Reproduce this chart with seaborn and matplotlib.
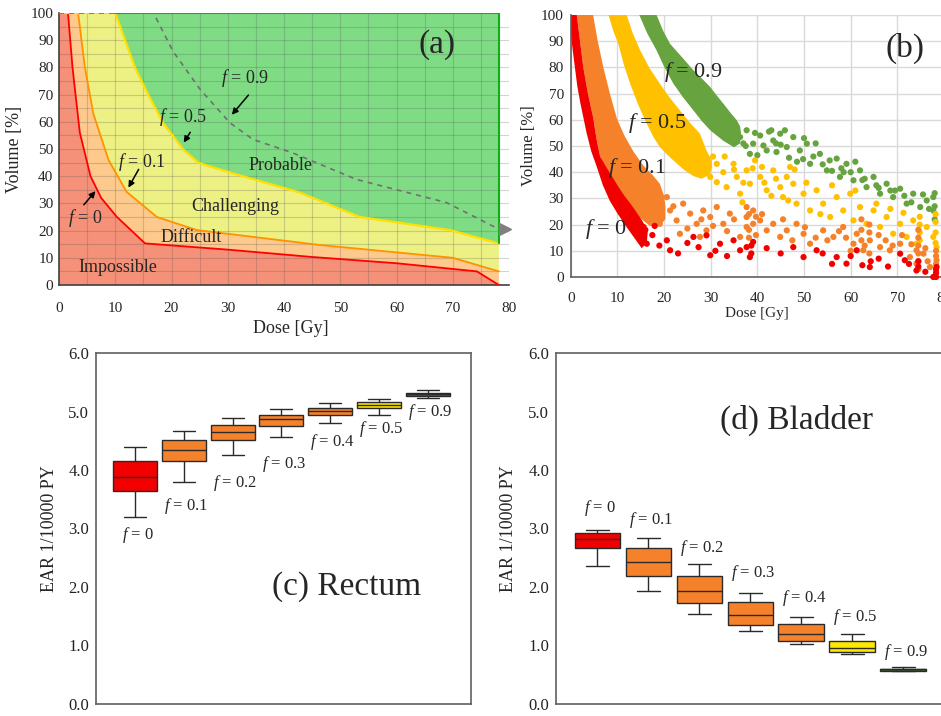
import numpy as np
import pandas as pd
import matplotlib
matplotlib.use('Agg')
import matplotlib.pyplot as plt
import seaborn as sns

#------------------style-------------------
sns.set_style('white')
plt.rcParams['font.family'] = ['Liberation Serif', 'DejaVu Serif']
plt.rcParams['mathtext.fontset'] = 'custom'
plt.rcParams['mathtext.rm'] = 'Liberation Serif'
plt.rcParams['mathtext.it'] = 'Liberation Serif:italic'

#------------------(a) region boundaries-------------------
dose_f0 = [0, 1.6, 2.4, 3.7, 5.6, 7.5, 10.3, 15.3, 30, 45, 60, 74.3, 78.2]
vol_f0 = [100, 100, 80, 56, 40, 32, 25, 15.3, 13, 10.3, 8, 5, 0]
dose_f01 = [0, 3.4, 4.6, 6.1, 8.8, 12.0, 17.4, 24.5, 46.4, 70, 78.2]
vol_f01 = [100, 100, 80, 63, 46, 34.3, 25, 20.2, 14.7, 10, 5]
dose_f05 = [0, 10, 13.5, 15.6, 18.5, 22.1, 24.8, 31, 42.8, 53.5, 69.5, 78.2]
vol_f05 = [100, 100, 80, 71, 59.6, 49.8, 44.9, 41, 34, 25, 20.2, 15.3]
dose_f09 = [0, 16.8, 20.3, 25.1, 30.4, 34.5, 41.5, 52.9, 68.9, 78.2]
vol_f09 = [100, 100, 85.8, 71.9, 59.6, 53.5, 48.6, 38.8, 30.3, 20.5]

#------------------(b) dense bands (outline of the point clouds)-------------------
red_band_dose = [0, 0, 0.4, 0.9, 1.4, 2, 2.7, 3.4, 4.4, 5.6, 6.9, 8.4, 10.1, 12, 13.6, 15.2,
                 16.3, 16.5, 15.5, 14, 12.8, 11.5, 10.2, 9, 7.6, 6.3, 5.5, 4.8, 3.7, 2.7, 2, 1.3]
red_band_vol = [100, 93, 87, 80, 73, 67, 61, 55, 48, 42, 35, 29, 24, 19, 15, 11,
                13, 17, 21, 25, 28, 31, 34.5, 38, 42, 46, 53, 61, 70, 80, 90, 100]
orange_band_dose = [1.3, 2, 2.7, 3.7, 4.8, 5.5, 6.3, 7.6, 9, 10.5, 12, 14.5, 17, 19,
                    20.3, 20.3, 20, 19.1, 17.5, 15.6, 13.4, 11.5, 9.9, 8.4, 7, 5.8, 4.8]
orange_band_vol = [100, 90, 80, 70, 61, 53, 46, 41, 36, 31.5, 28, 23, 19.5, 19.5,
                   22, 27, 31, 35.6, 39, 42.5, 48, 54, 60.5, 70, 80, 90, 100]
yellow_band_dose = [8.1, 9.1, 10.2, 11.4, 12.7, 14.4, 16.3, 17.7, 19.1, 20.5, 22, 24.2, 26.3, 28,
                    29.8, 30.3, 30.2, 29.1, 27.7, 25.5, 23.4, 21.2, 19.1, 16.8, 14.9, 13.3, 12]
yellow_band_vol = [100, 94, 89, 81, 74, 66, 58.5, 53.5, 49.6, 47, 44.5, 41, 38.5, 37.5,
                   39, 42, 44.5, 48.3, 54.7, 59, 63.6, 68.5, 73.8, 80, 86.5, 93, 100]
green_band_dose = [14.7, 16.4, 18.4, 20.1, 22, 24.1, 26.3, 28.1, 29.9, 32.7, 35,
                   36.3, 36.5, 36.3, 35.6, 34.2, 32.7, 31.3, 29.9, 28.1, 26.3, 23.8, 21.3, 19.8, 18.4]
green_band_vol = [100, 93, 86.5, 80, 73.8, 68.5, 63.6, 59.5, 56, 52, 49.5,
                  51, 55, 57.5, 59.8, 62.8, 66.2, 69.3, 72.5, 75.8, 78.9, 84, 89, 94, 100]

#------------------(b) scattered points in the tails-------------------
green_dose = [36.3, 37.7, 39.1, 40.6, 42, 43.4, 44.9, 46.3, 38.4, 41.3, 44.1, 45.9, 37, 42.5, 44, 40,
              47.7, 49.1, 50.6, 51.3, 53.4, 54.9, 57, 57.7, 59.1, 60.6, 62, 63.4, 64.9, 66.3, 67.7,
              69.1, 70.6, 72, 73.4, 74.9, 76.3, 77.7, 77.7, 48.5, 52, 55.5, 56, 58.5, 61, 62.5, 65.5,
              68.5, 71.5, 75.5, 78, 78, 78, 52.5, 46.8,
              37.5, 39.5, 43, 45, 49.8, 54, 58, 60, 63, 66, 69.5, 73, 76.8, 50]
green_vol = [53.4, 56, 50.9, 54, 48.3, 52.1, 54.7, 49.6, 47, 50.2, 47.7, 56, 51, 55.5, 51, 46.5,
             53.4, 48.3, 50.9, 43.2, 47, 40.7, 45.2, 38.2, 43.2, 36.9, 40.7, 34.3, 38.2, 31.8, 35.6,
             30.5, 33.7, 28, 31.8, 26.7, 29.2, 25.4, 30.5, 44, 46, 44.5, 40.5, 40, 44, 37, 35,
             33, 31, 31.5, 22, 27, 32, 51, 45.5,
             50, 55, 56, 50.5, 45, 43, 41.5, 40, 37.5, 34, 33, 28.5, 26, 53]
yellow_dose = [29.9, 31.3, 32.7, 33.4, 34.9, 35.6, 36.3, 37.7, 38.4, 39.5, 40.6, 42, 43.4, 44.9, 46.3,
               46.6, 31.3, 30.5, 41, 45.5, 48, 36.8, 47.7, 48.4, 49.9, 51.3, 52.7, 54.1, 55.6, 57,
               58.4, 59.9, 60.6, 62, 63.4, 64.9, 66.3, 67.7, 69.1, 70.6, 72, 73.4, 74.1, 76.3, 77.7,
               78.4, 74.8, 74.8, 74.8, 74.8, 78.2, 78.2, 78.2, 78.2, 50.5, 53.5, 56, 61, 65.5, 68.5, 71.3,
               33, 35, 37, 39, 41.5, 43, 44, 47]
yellow_vol = [38.2, 43.2, 40, 34.3, 43.2, 38.2, 31.8, 40.7, 35.6, 44.5, 38.2, 33.1, 40.7, 34.3, 38.2,
              29.2, 36.2, 46, 42, 30.5, 41, 28.5, 35.6, 28, 31.8, 25.4, 33.1, 28, 22.9, 30.5,
              25.4, 31.8, 21.6, 26.7, 20.3, 25.4, 19.1, 22.9, 16.5, 20.3, 15.3, 21.6, 12.7, 19.1, 15.3,
              11.4, 14, 17, 20, 23, 13, 17, 21, 24, 36, 24, 35, 33, 28, 26, 24.5,
              46, 41, 36, 41.5, 36, 31, 37.5, 42]
orange_dose = [20.6, 21.3, 22.7, 24.1, 25.6, 27, 28.4, 29.1, 29.9, 31.3, 32.7, 34.1, 36.3, 37.7, 37.7,
               37.7, 39.1, 39.1, 40.6, 42, 43.4, 44.9, 46.3, 19.1, 23.4, 27.7, 38.2, 38.2, 38.2, 39.7,
               39.7, 48.4, 49.9, 51.3, 54.1, 56.3, 58.4, 60.6, 61.3, 62.7, 64.1, 66.3, 68.4, 70.6, 72.7,
               74.1, 74.1, 75.6, 77, 78.4, 62.3, 62.3, 62.3, 64, 64, 64, 74.5, 74.5, 74.5, 74.5,
               74.5, 74.5, 78.3, 78.3, 78.3, 78.3, 50.2, 55, 59, 67.5, 71, 76,
               22, 25, 28, 30.5, 33.5, 35, 41, 45.5, 47.5, 52.5, 57.5, 60, 63, 66, 69, 73, 76.5]
orange_vol = [30.5, 25.4, 21.6, 28, 24.2, 20.3, 25.4, 17.8, 22.9, 26.7, 20.3, 24.2, 15.3, 26.7, 22.9,
              19.1, 25.4, 20.3, 21.6, 17.8, 20.3, 15.3, 17.8, 20.3, 16.5, 15.3, 15, 18, 24, 16,
              23, 20.3, 16.5, 12.7, 17.8, 15.3, 19.1, 12.7, 16.5, 10.2, 14, 11.4, 10.2, 12.7, 7.6,
              10.2, 5.1, 8.9, 3.8, 6.4, 14, 18, 22, 9, 17, 20, 3, 6, 9, 12,
              15, 18, 2, 5, 8, 10, 19, 14, 15, 14, 16, 11,
              27, 18.5, 22, 19.5, 17.5, 22, 24, 22, 14, 15, 17.5, 10, 12, 16, 12, 12.5, 6]
red_dose = [15.6, 16.3, 20.6, 21.3, 26.3, 27.4, 29.1, 29.9, 32, 34.9, 36.3, 37.7, 38.4, 39.1,
            47.7, 49.9, 57, 59.1, 61.3, 64.1, 70.6, 71.6, 74.1, 77.7, 78.4, 52.7,
            78.3, 78.3, 78.3, 74.5, 74.5, 38.7, 38.7, 62.5, 64.3, 60, 16, 17.5, 18,
            19, 23, 25, 31, 33.5, 42, 45, 54, 56, 66, 68, 72.5, 76]
red_vol = [19.1, 12.7, 14, 10.2, 15.3, 11.4, 15.9, 8.3, 12.7, 14, 10.2, 11.4, 7.6, 13.4,
           11.4, 7.6, 7.6, 5.1, 10.2, 3.8, 8.9, 6.4, 2.5, 0, 3.8, 10.2,
           0, 1.5, 3, 4, 6, 9, 12, 4.5, 6, 8, 18, 16, 19.5,
           12, 9, 13, 10, 8, 11, 9, 9, 5, 7, 4, 5, 2]

#------------------(c)/(d) box plot summaries-------------------
f_labels = ['0', '0.1', '0.2', '0.3', '0.4', '0.5', '0.9']
rectum_low = [3.19, 3.80, 4.26, 4.57, 4.80, 4.94, 5.24]
rectum_q1 = [3.64, 4.16, 4.51, 4.75, 4.95, 5.07, 5.27]
rectum_med = [3.89, 4.34, 4.66, 4.87, 5.02, 5.12, 5.30]
rectum_q3 = [4.15, 4.51, 4.77, 4.95, 5.07, 5.17, 5.32]
rectum_high = [4.39, 4.67, 4.89, 5.04, 5.15, 5.22, 5.37]
bladder_low = [2.35, 1.93, 1.54, 1.24, 1.02, 0.85, 0.55]
bladder_q1 = [2.66, 2.19, 1.72, 1.35, 1.08, 0.89, 0.56]
bladder_med = [2.82, 2.43, 1.93, 1.51, 1.19, 0.96, 0.59]
bladder_q3 = [2.92, 2.66, 2.19, 1.74, 1.36, 1.08, 0.60]
bladder_high = [2.98, 2.84, 2.39, 1.89, 1.49, 1.19, 0.63]

box_colors = ['#F20000', '#F5822A', '#F5822A', '#F5822A', '#F5822A', '#FFE800', '#3E6E2A']


def flab(v):
    return r'$\mathit{f}$ = ' + v


def box_frame(low, q1, med, q3, high):
    # five values per group -> quartiles land exactly on q1/med/q3
    rows = []
    for i, lab in enumerate(f_labels):
        for v in (low[i], q1[i], med[i], q3[i], high[i]):
            rows.append({'f': lab, 'EAR': v})
    return pd.DataFrame(rows)


def draw_panel_a(fig):
    ax = fig.add_axes([59 / 941, 1 - 285 / 716, 450 / 941, 272 / 716])
    # regions
    ax.fill(dose_f0 + [0], vol_f0 + [0], color='#F59178', lw=0, zorder=1)
    ax.fill(dose_f0 + dose_f01[::-1], vol_f0 + vol_f01[::-1], color='#FDC98C', lw=0, zorder=1)
    ax.fill(dose_f01 + dose_f05[::-1], vol_f01 + vol_f05[::-1], color='#EDF083', lw=0, zorder=1)
    ax.fill(dose_f05 + [78.2], vol_f05 + [100], color='#7FDC84', lw=0, zorder=1)
    # grid over the colours
    for g in np.arange(5, 81, 5):
        ax.axvline(g, color='#555555', alpha=0.25, lw=0.8, zorder=2)
    for g in np.arange(5, 100, 5):
        ax.axhline(g, color='#555555', alpha=0.25, lw=0.8, zorder=2)
    # boundaries
    ax.plot(dose_f0, vol_f0, color='#FF0000', lw=1.3, zorder=3)
    ax.plot(dose_f01, vol_f01, color='#FF9200', lw=1.3, zorder=3)
    ax.plot(dose_f05, vol_f05, color='#FFE000', lw=1.6, zorder=3)
    ax.plot([dose_f05[1], 78.2, 78.2], [100, 100, vol_f05[-1]], color='#10B010', lw=1.5, zorder=3)
    ax.plot(dose_f09, vol_f09, color='#707070', lw=1.2, ls=(0, (3, 3)), zorder=4)
    ax.plot([79.3], [vol_f09[-1]], marker='>', color='#808080', ms=8, zorder=4, clip_on=False)

    ax.set_xlim(0, 80)
    ax.set_ylim(0, 100)
    ax.set_xticks(np.arange(0, 81, 10))
    ax.set_yticks(np.arange(0, 101, 10))
    ax.tick_params(axis='x', length=0, pad=12, labelsize=11)
    ax.tick_params(axis='y', length=0, pad=4, labelsize=11)
    for s in ['top', 'right']:
        ax.spines[s].set_visible(False)
    for s in ['left', 'bottom']:
        ax.spines[s].set_color('#404040')
        ax.spines[s].set_linewidth(1.2)
    ax.set_xlabel('Dose [Gy]', fontsize=13)
    ax.xaxis.set_label_coords(0.516, -0.13)
    ax.set_ylabel('Volume [%]', fontsize=13)
    ax.yaxis.set_label_coords(-0.08, 0.5)

    kw = dict(fontsize=13, ha='center', va='center', zorder=6)
    ax.text(10.5, 6.6, 'Impossible', **kw)
    ax.text(23.5, 17.6, 'Difficult', **kw)
    ax.text(31.3, 28.7, 'Challenging', **kw)
    ax.text(39.3, 44.1, 'Probable', **kw)
    ax.text(4.7, 24.5, flab('0'), **kw)
    ax.text(14.8, 45.2, flab('0.1'), **kw)
    ax.text(22.0, 61.8, flab('0.5'), **kw)
    ax.text(33.1, 76.1, flab('0.9'), **kw)
    ax.text(67.2, 88.2, '(a)', fontsize=24, ha='center', va='center')
    arrow = dict(arrowstyle='-|>', color='black', lw=1.1, mutation_scale=9)
    ax.annotate('', xy=(6.8, 35.3), xytext=(4.1, 28.7), arrowprops=arrow, zorder=6)
    ax.annotate('', xy=(12.1, 34.9), xytext=(14.4, 43.4), arrowprops=arrow, zorder=6)
    ax.annotate('', xy=(21.9, 51.5), xytext=(23.6, 57.0), arrowprops=arrow, zorder=6)
    ax.annotate('', xy=(30.4, 61.8), xytext=(34.0, 70.6), arrowprops=arrow, zorder=6)


def draw_panel_b(fig):
    ax = fig.add_axes([570.7 / 941, 1 - 277 / 716, 373.3 / 941, 262 / 716])
    ax.set_xlim(0, 80)
    ax.set_ylim(0, 100)
    ax.set_xticks(np.arange(0, 81, 10))
    ax.set_yticks(np.arange(0, 101, 10))
    ax.grid(True, color='#D9D9D9', lw=1.0)
    ax.set_axisbelow(True)

    ax.fill(green_band_dose, green_band_vol, color='#67A43F', lw=0, zorder=2)
    ax.fill(yellow_band_dose, yellow_band_vol, color='#FFC000', lw=0, zorder=2)
    ax.fill(orange_band_dose, orange_band_vol, color='#F5822A', lw=0, zorder=2)
    ax.fill(red_band_dose, red_band_vol, color='#F20000', lw=0, zorder=2)

    pts = pd.concat([
        pd.DataFrame({'dose': green_dose, 'vol': green_vol, 'grp': 'g'}),
        pd.DataFrame({'dose': yellow_dose, 'vol': yellow_vol, 'grp': 'y'}),
        pd.DataFrame({'dose': orange_dose, 'vol': orange_vol, 'grp': 'o'}),
        pd.DataFrame({'dose': red_dose, 'vol': red_vol, 'grp': 'r'}),
    ], ignore_index=True)
    sns.scatterplot(data=pts, x='dose', y='vol', hue='grp',
                    palette={'g': '#67A43F', 'y': '#FFC000', 'o': '#F5822A', 'r': '#F20000'},
                    s=20, linewidth=0, legend=False, ax=ax, zorder=3, clip_on=False)

    ax.tick_params(axis='x', length=0, pad=11, labelsize=11)
    ax.tick_params(axis='y', length=0, pad=5, labelsize=11)
    for s in ['top', 'right']:
        ax.spines[s].set_visible(False)
    for s in ['left', 'bottom']:
        ax.spines[s].set_color('#606060')
        ax.spines[s].set_linewidth(1.2)
    ax.set_xlabel('Dose [Gy]', fontsize=11)
    ax.xaxis.set_label_coords(0.499, -0.115)
    ax.set_ylabel('Volume [%]', fontsize=12)
    ax.yaxis.set_label_coords(-0.09, 0.5)

    kw = dict(fontsize=16, ha='center', va='center', zorder=6)
    ax.text(26.2, 78.1, flab('0.9'), **kw)
    ax.text(18.5, 58.7, flab('0.5'), **kw)
    ax.text(14.2, 41.5, flab('0.1'), **kw)
    ax.text(7.6, 18.5, flab('0'), **kw)
    ax.text(71.6, 87.3, '(b)', fontsize=24, ha='center', va='center', zorder=6)


def draw_box_panel(fig, rect, df, xlim, label_y, title, title_xy, ylab_x):
    ax = fig.add_axes(rect)
    sns.boxplot(data=df, x='f', y='EAR', hue='f', order=f_labels, hue_order=f_labels,
                palette=box_colors, width=0.9, whis=(0, 100), linecolor='#2A2A2A',
                linewidth=1.0, saturation=1, legend=False, ax=ax)
    ax.set_xlim(*xlim)
    ax.set_ylim(0, 6)
    ax.set_yticks(np.arange(0, 6.1, 1))
    ax.set_yticklabels(['%.1f' % v for v in np.arange(0, 6.1, 1)])
    ax.set_xticks([])
    ax.set_xlabel('')
    ax.set_ylabel('EAR 1/10000 PY', fontsize=13)
    ax.yaxis.set_label_coords(ylab_x, 0.5)
    ax.tick_params(axis='y', length=0, pad=5, labelsize=12, labelcolor='#222222')
    for s in ax.spines.values():
        s.set_color('#606060')
        s.set_linewidth(1.2)
    for i, lab in enumerate(f_labels):
        ax.text(i + 0.05, label_y[i], flab(lab), fontsize=12, ha='center', va='center')
    ax.text(title_xy[0], title_xy[1], title, fontsize=24, ha='center', va='center')
    return ax


def main():
    fig = plt.figure(figsize=(9.41, 7.16), dpi=100)
    draw_panel_a(fig)
    draw_panel_b(fig)

    rectum = box_frame(rectum_low, rectum_q1, rectum_med, rectum_q3, rectum_high)
    bladder = box_frame(bladder_low, bladder_q1, bladder_med, bladder_q3, bladder_high)
    draw_box_panel(fig, [96 / 941, 12.5 / 716, 375 / 941, 350 / 716], rectum, (-0.8, 6.885),
                   [2.89, 3.39, 3.78, 4.11, 4.48, 4.70, 5.00], '(c) Rectum', (4.33, 2.0), -0.1)
    draw_box_panel(fig, [556 / 941, 12.5 / 716, 392 / 941, 350 / 716], bladder, (-0.814, 6.875),
                   [3.35, 3.15, 2.67, 2.24, 1.81, 1.48, 0.88], '(d) Bladder', (3.9, 4.86), -0.1)

    fig.savefig('out.png', dpi=100)


if __name__ == '__main__':
    main()
